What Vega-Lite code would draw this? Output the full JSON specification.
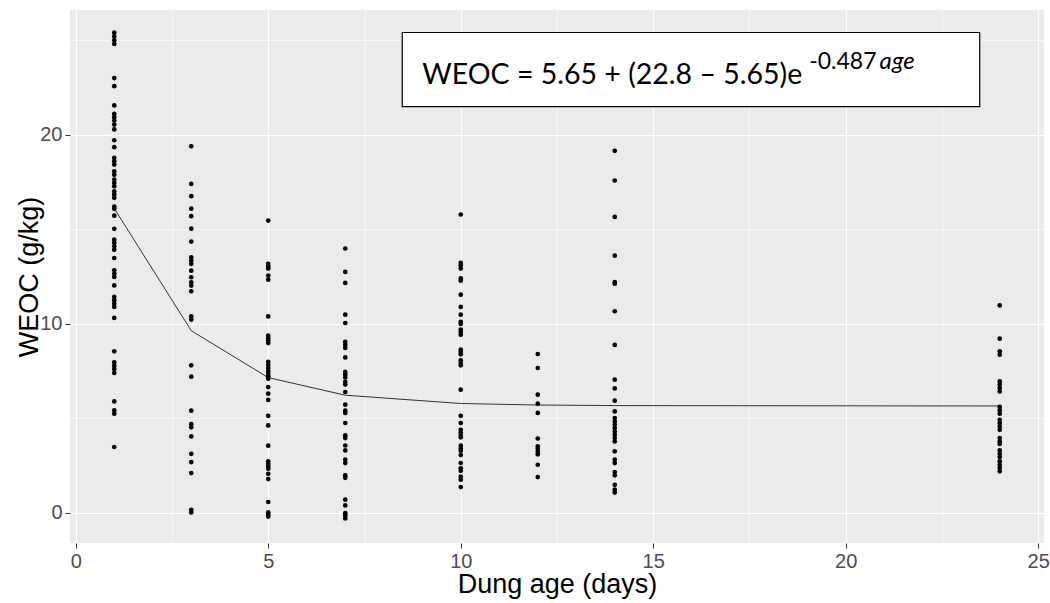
{
  "$schema": "https://vega.github.io/schema/vega-lite/v6.json",
  "width": 974,
  "height": 533,
  "autosize": {"type": "none"},
  "padding": {"left": 70, "top": 10, "right": 6, "bottom": 60},
  "background": "white",
  "config": {
    "view": {"fill": "#EBEBEB", "stroke": null},
    "axis": {
      "domain": false,
      "gridColor": "white",
      "tickColor": "#333333",
      "tickSize": 5,
      "labelFont": "Liberation Sans",
      "labelFontSize": 20,
      "labelColor": "#4D4D4D",
      "titleFont": "Liberation Sans",
      "titleFontSize": 27,
      "titleFontWeight": "normal",
      "titleColor": "black"
    }
  },
  "datasets": {
    "obs": [
      {"age":1,"weoc":25.4},{"age":1,"weoc":25.2},{"age":1,"weoc":25.0},{"age":1,"weoc":24.8},{"age":1,"weoc":23.0},{"age":1,"weoc":22.57},{"age":1,"weoc":21.55},{"age":1,"weoc":21.1},{"age":1,"weoc":20.93},{"age":1,"weoc":20.75},{"age":1,"weoc":20.54},{"age":1,"weoc":20.28},{"age":1,"weoc":19.71},{"age":1,"weoc":19.34},{"age":1,"weoc":18.78},{"age":1,"weoc":18.6},{"age":1,"weoc":18.42},{"age":1,"weoc":18.07},{"age":1,"weoc":17.89},{"age":1,"weoc":17.63},{"age":1,"weoc":17.45},{"age":1,"weoc":17.27},{"age":1,"weoc":17.0},{"age":1,"weoc":16.83},{"age":1,"weoc":16.66},{"age":1,"weoc":16.2},{"age":1,"weoc":16.08},{"age":1,"weoc":15.72},{"age":1,"weoc":15.02},{"age":1,"weoc":14.45},{"age":1,"weoc":14.28},{"age":1,"weoc":14.1},{"age":1,"weoc":13.92},{"age":1,"weoc":13.48},{"age":1,"weoc":12.83},{"age":1,"weoc":12.65},{"age":1,"weoc":12.48},{"age":1,"weoc":12.03},{"age":1,"weoc":11.42},{"age":1,"weoc":11.24},{"age":1,"weoc":11.06},{"age":1,"weoc":10.89},{"age":1,"weoc":10.31},{"age":1,"weoc":8.54},{"age":1,"weoc":7.96},{"age":1,"weoc":7.78},{"age":1,"weoc":7.61},{"age":1,"weoc":7.4},{"age":1,"weoc":5.89},{"age":1,"weoc":5.42},{"age":1,"weoc":5.24},{"age":1,"weoc":3.48},
      {"age":3,"weoc":19.39},{"age":3,"weoc":17.4},{"age":3,"weoc":16.75},{"age":3,"weoc":16.09},{"age":3,"weoc":15.69},{"age":3,"weoc":15.03},{"age":3,"weoc":14.35},{"age":3,"weoc":13.52},{"age":3,"weoc":13.34},{"age":3,"weoc":13.17},{"age":3,"weoc":12.81},{"age":3,"weoc":12.46},{"age":3,"weoc":12.19},{"age":3,"weoc":12.02},{"age":3,"weoc":11.72},{"age":3,"weoc":10.39},{"age":3,"weoc":10.22},{"age":3,"weoc":7.8},{"age":3,"weoc":7.2},{"age":3,"weoc":5.4},{"age":3,"weoc":4.69},{"age":3,"weoc":4.52},{"age":3,"weoc":4.04},{"age":3,"weoc":3.12},{"age":3,"weoc":2.68},{"age":3,"weoc":2.1},{"age":3,"weoc":0.16},{"age":3,"weoc":0.02},
      {"age":5,"weoc":15.46},{"age":5,"weoc":13.17},{"age":5,"weoc":13.04},{"age":5,"weoc":12.92},{"age":5,"weoc":12.55},{"age":5,"weoc":12.33},{"age":5,"weoc":10.39},{"age":5,"weoc":9.37},{"age":5,"weoc":9.23},{"age":5,"weoc":9.11},{"age":5,"weoc":8.98},{"age":5,"weoc":7.98},{"age":5,"weoc":7.82},{"age":5,"weoc":7.66},{"age":5,"weoc":7.5},{"age":5,"weoc":7.36},{"age":5,"weoc":7.22},{"age":5,"weoc":7.09},{"age":5,"weoc":6.65},{"age":5,"weoc":6.3},{"age":5,"weoc":5.97},{"age":5,"weoc":5.13},{"age":5,"weoc":4.62},{"age":5,"weoc":3.55},{"age":5,"weoc":2.72},{"age":5,"weoc":2.58},{"age":5,"weoc":2.45},{"age":5,"weoc":2.33},{"age":5,"weoc":2.06},{"age":5,"weoc":1.78},{"age":5,"weoc":0.57},{"age":5,"weoc":0.02},{"age":5,"weoc":-0.1},{"age":5,"weoc":-0.2},
      {"age":7,"weoc":13.98},{"age":7,"weoc":12.74},{"age":7,"weoc":12.16},{"age":7,"weoc":10.48},{"age":7,"weoc":10.04},{"age":7,"weoc":9.04},{"age":7,"weoc":8.89},{"age":7,"weoc":8.72},{"age":7,"weoc":8.22},{"age":7,"weoc":7.45},{"age":7,"weoc":7.31},{"age":7,"weoc":7.16},{"age":7,"weoc":6.92},{"age":7,"weoc":6.78},{"age":7,"weoc":6.39},{"age":7,"weoc":5.72},{"age":7,"weoc":5.4},{"age":7,"weoc":5.28},{"age":7,"weoc":4.75},{"age":7,"weoc":4.09},{"age":7,"weoc":3.95},{"age":7,"weoc":3.56},{"age":7,"weoc":3.3},{"age":7,"weoc":2.81},{"age":7,"weoc":2.63},{"age":7,"weoc":1.98},{"age":7,"weoc":1.85},{"age":7,"weoc":0.69},{"age":7,"weoc":0.39},{"age":7,"weoc":-0.02},{"age":7,"weoc":-0.14},{"age":7,"weoc":-0.3},
      {"age":10,"weoc":15.78},{"age":10,"weoc":13.22},{"age":10,"weoc":13.08},{"age":10,"weoc":12.92},{"age":10,"weoc":12.4},{"age":10,"weoc":12.28},{"age":10,"weoc":11.54},{"age":10,"weoc":10.89},{"age":10,"weoc":10.48},{"age":10,"weoc":10.1},{"age":10,"weoc":9.99},{"age":10,"weoc":9.69},{"age":10,"weoc":9.57},{"age":10,"weoc":9.42},{"age":10,"weoc":8.63},{"age":10,"weoc":8.51},{"age":10,"weoc":8.38},{"age":10,"weoc":8.06},{"age":10,"weoc":7.92},{"age":10,"weoc":7.8},{"age":10,"weoc":6.51},{"age":10,"weoc":5.13},{"age":10,"weoc":4.75},{"age":10,"weoc":4.39},{"age":10,"weoc":4.25},{"age":10,"weoc":4.11},{"age":10,"weoc":3.99},{"age":10,"weoc":3.55},{"age":10,"weoc":3.4},{"age":10,"weoc":3.28},{"age":10,"weoc":3.05},{"age":10,"weoc":2.63},{"age":10,"weoc":2.35},{"age":10,"weoc":2.22},{"age":10,"weoc":1.91},{"age":10,"weoc":1.75},{"age":10,"weoc":1.36},
      {"age":12,"weoc":8.4},{"age":12,"weoc":7.66},{"age":12,"weoc":6.25},{"age":12,"weoc":5.77},{"age":12,"weoc":5.28},{"age":12,"weoc":3.93},{"age":12,"weoc":3.51},{"age":12,"weoc":3.37},{"age":12,"weoc":3.23},{"age":12,"weoc":3.09},{"age":12,"weoc":2.54},{"age":12,"weoc":1.89},
      {"age":14,"weoc":19.15},{"age":14,"weoc":17.58},{"age":14,"weoc":15.65},{"age":14,"weoc":13.6},{"age":14,"weoc":12.21},{"age":14,"weoc":12.12},{"age":14,"weoc":10.66},{"age":14,"weoc":8.88},{"age":14,"weoc":7.04},{"age":14,"weoc":6.58},{"age":14,"weoc":5.93},{"age":14,"weoc":5.36},{"age":14,"weoc":5.01},{"age":14,"weoc":4.83},{"age":14,"weoc":4.66},{"age":14,"weoc":4.48},{"age":14,"weoc":4.3},{"age":14,"weoc":4.13},{"age":14,"weoc":3.95},{"age":14,"weoc":3.77},{"age":14,"weoc":3.25},{"age":14,"weoc":2.81},{"age":14,"weoc":2.63},{"age":14,"weoc":2.15},{"age":14,"weoc":1.98},{"age":14,"weoc":1.48},{"age":14,"weoc":1.22},{"age":14,"weoc":1.07},
      {"age":24,"weoc":10.97},{"age":24,"weoc":9.21},{"age":24,"weoc":8.54},{"age":24,"weoc":8.36},{"age":24,"weoc":6.95},{"age":24,"weoc":6.78},{"age":24,"weoc":6.6},{"age":24,"weoc":6.42},{"age":24,"weoc":5.6},{"age":24,"weoc":5.42},{"age":24,"weoc":5.24},{"age":24,"weoc":4.92},{"age":24,"weoc":4.75},{"age":24,"weoc":4.57},{"age":24,"weoc":4.39},{"age":24,"weoc":3.95},{"age":24,"weoc":3.77},{"age":24,"weoc":3.64},{"age":24,"weoc":3.3},{"age":24,"weoc":3.12},{"age":24,"weoc":2.95},{"age":24,"weoc":2.72},{"age":24,"weoc":2.54},{"age":24,"weoc":2.37},{"age":24,"weoc":2.19}
    ],
    "fit": [
      {"age":1,"weoc":16.1},{"age":3,"weoc":9.63},{"age":5,"weoc":7.15},{"age":7,"weoc":6.22},{"age":10,"weoc":5.78},{"age":12,"weoc":5.7},{"age":14,"weoc":5.67},{"age":24,"weoc":5.65}
    ],
    "box": [{"x1": 8.48, "x2": 23.48, "y1": 21.49, "y2": 25.41}],
    "label": [
      {"part": "main", "x": 9.0, "y": 22.66, "text": "WEOC = 5.65 + (22.8 – 5.65)e"},
      {"part": "sup", "x": 19.05, "y": 23.5, "text": "-0.487"},
      {"part": "it", "x": 20.88, "y": 23.5, "text": "age"}
    ]
  },
  "encoding": {
    "x": {
      "field": "age", "type": "quantitative",
      "scale": {"domain": [-0.15, 25.15], "nice": false, "zero": false},
      "axis": {
        "title": "Dung age (days)",
        "values": [0, 2.5, 5, 7.5, 10, 12.5, 15, 17.5, 20, 22.5, 25],
        "labelExpr": "datum.value % 5 === 0 ? datum.label : ''",
        "gridWidth": {"condition": {"test": "datum.value % 5 === 0", "value": 1.1}, "value": 0.55},
        "tickOpacity": {"condition": {"test": "datum.value % 5 === 0", "value": 1}, "value": 0},
        "labelPadding": 3,
        "titlePadding": 0
      }
    },
    "y": {
      "field": "weoc", "type": "quantitative",
      "scale": {"domain": [-1.6, 26.6], "nice": false, "zero": false},
      "axis": {
        "title": "WEOC (g/kg)",
        "values": [0, 5, 10, 15, 20, 25],
        "labelExpr": "datum.value % 10 === 0 ? datum.label : ''",
        "gridWidth": {"condition": {"test": "datum.value % 10 === 0", "value": 1.1}, "value": 0.55},
        "tickOpacity": {"condition": {"test": "datum.value % 10 === 0", "value": 1}, "value": 0},
        "labelPadding": 3,
        "titlePadding": -4
      }
    }
  },
  "layer": [
    {
      "data": {"name": "obs"},
      "mark": {"type": "circle", "size": 22, "color": "black", "opacity": 1}
    },
    {
      "data": {"name": "fit"},
      "mark": {"type": "line", "color": "black", "strokeWidth": 0.8}
    },
    {
      "data": {"name": "box"},
      "mark": {"type": "rect", "fill": "white", "stroke": "black", "strokeWidth": 1.2},
      "encoding": {
        "x": {"field": "x1", "type": "quantitative"},
        "x2": {"field": "x2"},
        "y": {"field": "y1", "type": "quantitative"},
        "y2": {"field": "y2"}
      }
    },
    {
      "data": {"name": "label"},
      "transform": [{"filter": "datum.part === 'main'"}],
      "mark": {"type": "text", "align": "left", "baseline": "alphabetic", "font": "Lato", "fontSize": 28.5, "color": "black"},
      "encoding": {
        "x": {"field": "x", "type": "quantitative"},
        "y": {"field": "y", "type": "quantitative"},
        "text": {"field": "text"}
      }
    },
    {
      "data": {"name": "label"},
      "transform": [{"filter": "datum.part === 'sup'"}],
      "mark": {"type": "text", "align": "left", "baseline": "alphabetic", "font": "Lato", "fontSize": 23, "color": "black"},
      "encoding": {
        "x": {"field": "x", "type": "quantitative"},
        "y": {"field": "y", "type": "quantitative"},
        "text": {"field": "text"}
      }
    },
    {
      "data": {"name": "label"},
      "transform": [{"filter": "datum.part === 'it'"}],
      "mark": {"type": "text", "align": "left", "baseline": "alphabetic", "font": "Lato", "fontSize": 24, "fontStyle": "italic", "color": "black"},
      "encoding": {
        "x": {"field": "x", "type": "quantitative"},
        "y": {"field": "y", "type": "quantitative"},
        "text": {"field": "text"}
      }
    }
  ]
}
